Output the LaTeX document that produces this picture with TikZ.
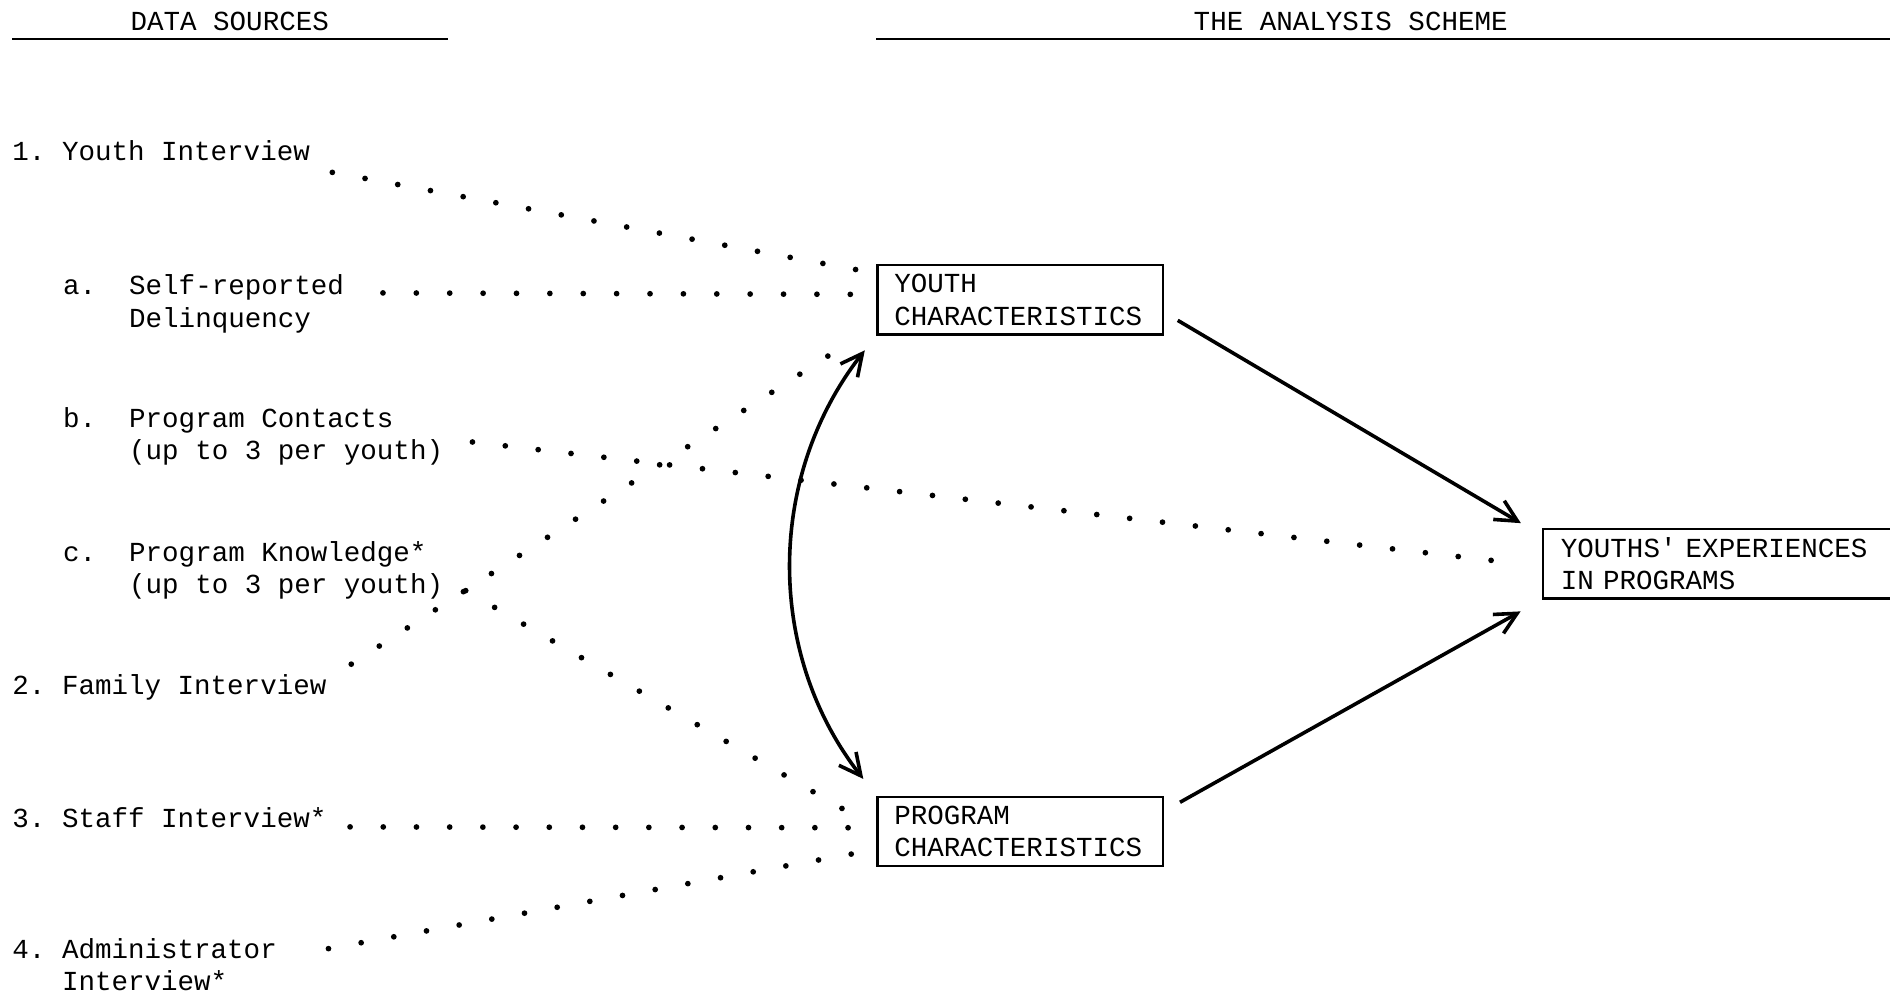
\documentclass[tikz,border=0pt]{standalone}
\usepackage{fontspec}
\setmainfont{Liberation Mono}
\usetikzlibrary{arrows.meta}
\begin{document}
\begin{tikzpicture}[x=0.02cm, y=-0.02cm, font=\fontsize{13}{15.4}\selectfont\frenchspacing,
  src/.style={anchor=base west, inner sep=0pt, align=left},
  box/.style={draw, line width=1.1pt, anchor=north west, align=left, text width=4.18cm, inner xsep=0.28cm, inner ysep=0pt, minimum height=1.15cm},
  dotty/.style={line width=2.7pt, line cap=round, dash pattern=on 0pt off #1},
  dotty/.default=0.553cm,
  link/.style={line width=1.7pt, >={Straight Barb[length=3.6mm,width=3.6mm]}}]
\useasboundingbox (0,0) rectangle (1568,825);
% headings
\node[src] (hdata) at (108,25.5) {DATA SOURCES};
\node[src] (hscheme) at (990,25.5) {THE ANALYSIS SCHEME};
\draw[line width=1pt] (10,32) -- (372,32);
\draw[line width=1pt] (727,32) -- (1568,32);
% data sources
\node[src] (youth) at (10,133.5) {1. Youth Interview};
\node[src] (selfrep) at (52,271.5) {a.~~Self-reported\\\hphantom{a.~~}Delinquency};
\node[src] (contacts) at (52,381.5) {b.~~Program Contacts\\\hphantom{b.~~}(up to 3 per youth)};
\node[src] (knowledge) at (52,492.5) {c.~~Program Knowledge*\\\hphantom{c.~~}(up to 3 per youth)};
\node[src] (family) at (10,576.5) {2. Family Interview};
\node[src] (staff) at (10,686.5) {3. Staff Interview*};
\node[src] (admin) at (10,822) {4.~Administrator\\\hphantom{4.~}Interview*};
% analysis scheme
\node[box] (yc) at (727,219) {YOUTH\\CHARACTERISTICS};
\node[box] (pc) at (727,660) {PROGRAM\\CHARACTERISTICS};
\node[box, text width=5.3cm, inner xsep=0.3cm] (ye) at (1279,438) {YOUTHS\textquotesingle{} EXPERIENCES\\IN PROGRAMS};
% dotted links
\draw[dotty=0.552cm] ([shift={(18.3,9.5)}]youth.base east) -- ([shift={(-15,5)}]yc.north west);
\draw[dotty=0.554cm] ([shift={(32,-28.5)}]selfrep.base east) -- ([shift={(-20,-4.5)}]yc.west);
\draw[dotty=0.549cm] ([shift={(24,-14.8)}]contacts.base east) -- ([shift={(-39,-2.5)}]ye.west);
\draw[dotty=0.554cm] ([shift={(20.3,-25.5)}]family.base east) -- ([shift={(-17,2)}]yc.south west);
\draw[dotty=0.555cm] ([shift={(18.4,-2.5)}]knowledge.base east) -- ([shift={(-27.6,11.2)}]pc.north west);
\draw[dotty=0.551cm] ([shift={(19.3,-0.5)}]staff.base east) -- ([shift={(-22,-3)}]pc.west);
\draw[dotty=0.551cm] ([shift={(42.5,-35)}]admin.base east) -- ([shift={(-20,-11)}]pc.south west);
% arrows
\draw[link, ->, shorten <=0.26cm, shorten >=0.4cm] (yc.-5) -- (ye.171);
\draw[link, ->, shorten <=0.3cm, shorten >=0.4cm] (pc.8) -- (ye.south west);
\draw[link, <->, shorten <=0.31cm, shorten >=0.35cm] (yc.south west) to[bend right=38] (pc.north west);
\end{tikzpicture}
\end{document}
